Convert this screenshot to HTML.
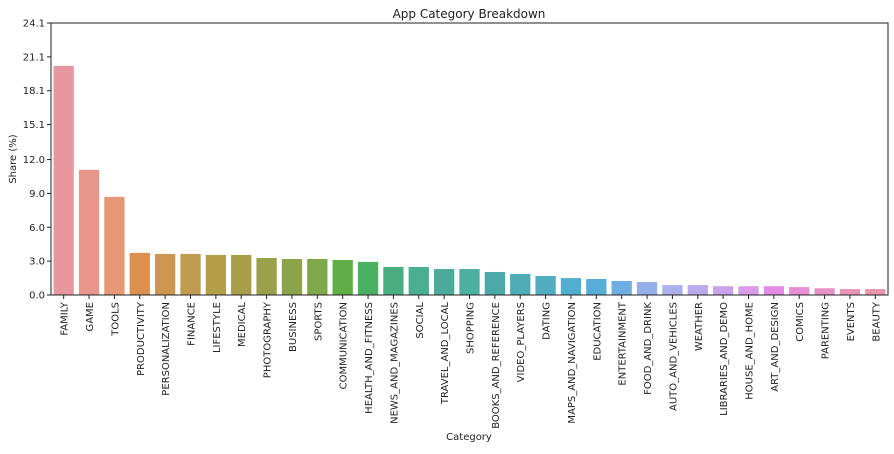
<!DOCTYPE html>
<html><head><meta charset="utf-8"><style>
body{margin:0;background:#fff;width:894px;height:449px;overflow:hidden}
svg text{font-family:"DejaVu Sans","Liberation Sans",sans-serif;fill:#222}
</style></head><body>
<svg id="chart" width="894" height="449" xmlns="http://www.w3.org/2000/svg">
<text x="469" y="18" font-size="12" text-anchor="middle">App Category Breakdown</text>
<text transform="translate(16,159) rotate(-90)" font-size="10" text-anchor="middle">Share (%)</text>
<text x="469" y="440" font-size="10" text-anchor="middle">Category</text>
<g id="bars"></g><g id="axes"></g>
</svg>
<script>
const categories=["FAMILY","GAME","TOOLS","PRODUCTIVITY","PERSONALIZATION","FINANCE","LIFESTYLE","MEDICAL","PHOTOGRAPHY","BUSINESS","SPORTS","COMMUNICATION","HEALTH_AND_FITNESS","NEWS_AND_MAGAZINES","SOCIAL","TRAVEL_AND_LOCAL","SHOPPING","BOOKS_AND_REFERENCE","VIDEO_PLAYERS","DATING","MAPS_AND_NAVIGATION","EDUCATION","ENTERTAINMENT","FOOD_AND_DRINK","AUTO_AND_VEHICLES","WEATHER","LIBRARIES_AND_DEMO","HOUSE_AND_HOME","ART_AND_DESIGN","COMICS","PARENTING","EVENTS","BEAUTY"];
const shares=[20.3,11.09,8.7,3.73,3.64,3.64,3.55,3.55,3.28,3.19,3.19,3.1,2.93,2.48,2.48,2.3,2.3,2.04,1.86,1.68,1.5,1.42,1.24,1.15,0.88,0.88,0.78,0.78,0.78,0.7,0.6,0.53,0.53];
const yTicks=["0.0","3.0","6.0","9.0","12.0","15.1","18.1","21.1","24.1"];
const colors=["#e9979f","#e8968b","#e59776","#dc8f4e","#cf9650","#c19c50","#b39e4a","#a79f48","#9aa14a","#8ca449","#7fa84a","#60ae47","#4ab162","#4aae82","#4aae8f","#4aab9a","#4cafa0","#4ca9aa","#4fabb6","#51adc2","#52aecf","#58acd8","#6eaee3","#94b0e9","#aab0eb","#baa9ec","#c9a2e9","#d89de6","#e58be7","#e68fd5","#e792c7","#e895b6","#e996ad"];
const L=51,R=888,T=23,B=295,yMax=24.1;
const ns="http://www.w3.org/2000/svg";
const slot=(R-L)/categories.length;
function x(i){return L+slot*(i+0.5);}
function y(v){return B-(v/yMax)*(B-T);}
const bars=document.getElementById('bars'),axes=document.getElementById('axes');
function mk(tag,attrs,parent){const e=document.createElementNS(ns,tag);for(const k in attrs)e.setAttribute(k,attrs[k]);parent.appendChild(e);return e;}
shares.forEach((v,i)=>{
  const r=mk('rect',{x:x(i)-slot*0.4,y:y(v),width:slot*0.8,height:B-y(v),fill:colors[i]},bars);
  
  
  mk('line',{x1:x(i),x2:x(i),y1:B,y2:B+4,stroke:'#222'},axes);
  const t=mk('text',{transform:`translate(${x(i)+4},${B+7}) rotate(-90)`,'font-size':10,'text-anchor':'end'},axes);
  t.textContent=categories[i];
  
  
});
yTicks.forEach(s=>{
  const v=parseFloat(s);const yy=y(v);
  mk('line',{x1:L-4,x2:L,y1:yy,y2:yy,stroke:'#222'},axes);
  const t=mk('text',{x:L-6,y:yy+3.5,'font-size':10,'text-anchor':'end'},axes);
  t.textContent=s;
  
  
});
const f=mk('rect',{x:L,y:T,width:R-L,height:B-T,fill:'none',stroke:'#222','stroke-width':1},axes);


</script>
</body></html>
